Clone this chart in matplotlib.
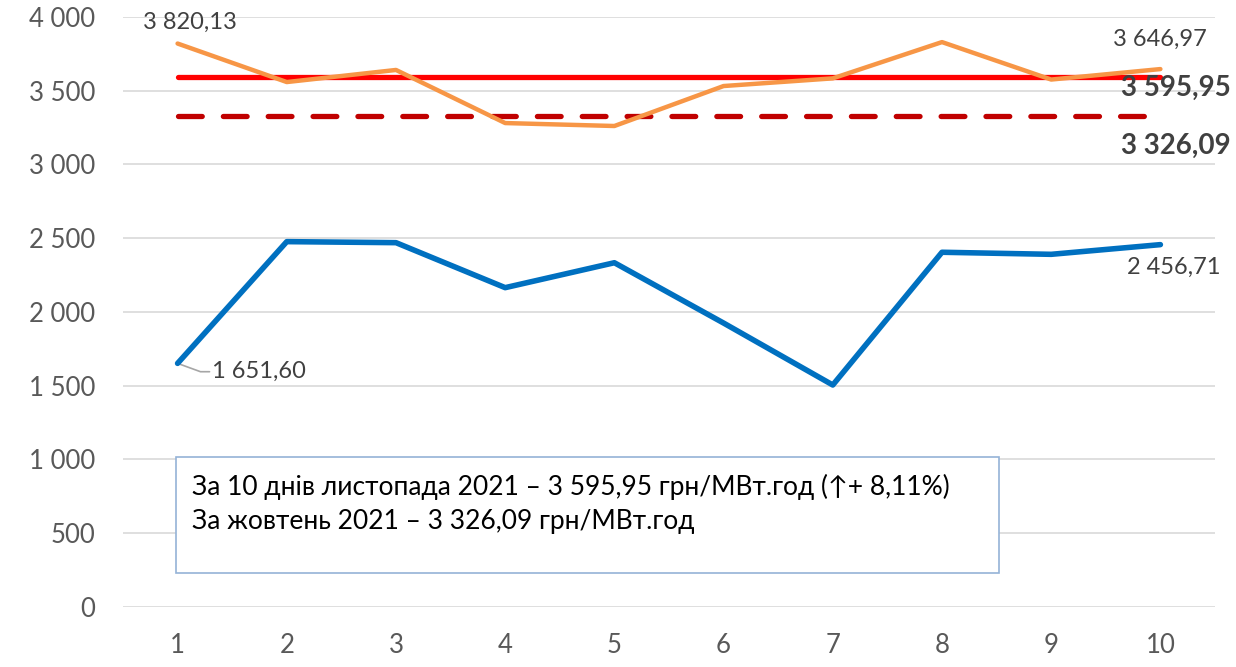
import numpy as np
import matplotlib
matplotlib.use("Agg")
import matplotlib.pyplot as plt
from matplotlib.patches import Rectangle

plt.rcParams["font.family"] = ["Lato", "DejaVu Sans"]

days = list(range(1, 11))
price_orange = [3820.13, 3559, 3641, 3281, 3261, 3532, 3584, 3830, 3576, 3646.97]
price_blue = [1651.60, 2477, 2470, 2165, 2334, 1925, 1505, 2405, 2391, 2456.71]
avg_nov = 3595.95
avg_oct = 3326.09
yticks = [0, 500, 1000, 1500, 2000, 2500, 3000, 3500, 4000]
box_lines = ["За 10 днів листопада 2021 – 3 595,95 грн/МВт.год (↑+ 8,11%)",
             "За жовтень 2021 – 3 326,09 грн/МВт.год"]


def fmt(v, dec=2):
    s = f"{v:,.{dec}f}".replace(",", " ").replace(".", ",")
    return s


fig = plt.figure(figsize=(12.36, 6.67), dpi=100)
ax = fig.add_axes([0.0995, 0.09, 0.8835, 0.8845])

ax.plot(days, [avg_nov] * len(days), color="#FF0000", lw=3.8, solid_capstyle="round", zorder=3)
ax.plot(days, [avg_oct] * len(days), color="#C00000", lw=3.8, ls=(0, (4.5, 4)),
        dash_capstyle="round", zorder=3)
ax.plot(days, price_orange, color="#F79646", lw=3.2, solid_capstyle="round", zorder=4)
ax.plot(days, price_blue, color="#0070C0", lw=4.0, solid_capstyle="round", zorder=4)

ax.set_xlim(0.5, 10.5)
ax.set_ylim(0, 4000)
ax.set_yticks(yticks)
ax.set_yticklabels([fmt(v, 0) if v >= 1000 else str(v) for v in yticks])
ax.set_xticks(days)
ax.grid(axis="y", color="#D9D9D9", lw=1.2)
ax.set_axisbelow(True)
for sp in ax.spines.values():
    sp.set_visible(False)
ax.tick_params(length=0, labelsize=18.5, labelcolor="#595959")
ax.tick_params(axis="x", pad=19)
ax.tick_params(axis="y", pad=20)

lab = dict(fontsize=17, color="#404040", va="center", ha="left", textcoords="offset points")
ax.annotate(fmt(price_orange[0]), (days[0], price_orange[0]), xytext=(-25, 15), **lab)
ax.annotate(fmt(price_orange[-1]), (days[-1], price_orange[-1]), xytext=(-34, 21.5), **lab)
ax.annotate(fmt(price_blue[0]), (days[0], price_blue[0]), xytext=(25, -6),
            arrowprops=dict(arrowstyle="-", color="#A6A6A6", lw=1.2,
                            connectionstyle="angle,angleA=0,angleB=-20,rad=0",
                            shrinkA=0, shrinkB=0),
            **lab)
ax.annotate(fmt(price_blue[-1]), (days[-1], price_blue[-1]), xytext=(-24, -16.5), **lab)

big = dict(fontsize=20, fontweight="bold", color="#404040", va="center", ha="left",
           textcoords="offset points")
ax.annotate(fmt(avg_nov), (days[-1], avg_nov), xytext=(-28, -8), **big)
ax.annotate(fmt(avg_oct), (days[-1], avg_oct), xytext=(-28, -21), **big)

# text box with the averages
box = Rectangle((176 / 1236, 1 - 573 / 667), (999 - 176) / 1236, (573 - 457) / 667,
                transform=fig.transFigure, facecolor="white", edgecolor="#95B3D7",
                lw=1.2, zorder=5)
fig.patches.append(box)
fig.text(192 / 1236, 1 - 487 / 667, box_lines[0], fontsize=19, color="black",
         va="center", ha="left", zorder=6)
fig.text(192 / 1236, 1 - 522 / 667, box_lines[1], fontsize=19, color="black",
         va="center", ha="left", zorder=6)

fig.savefig("out.png", dpi=100)
